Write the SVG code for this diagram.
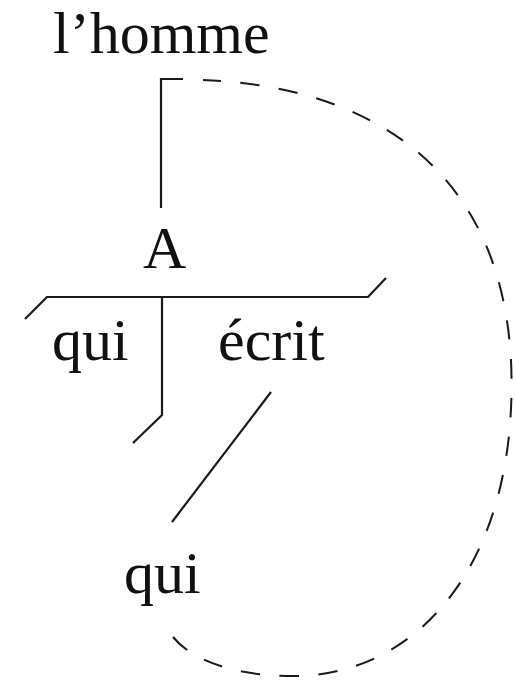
<svg xmlns="http://www.w3.org/2000/svg" width="515" height="682" viewBox="0 0 515 682">
<style>
text{font-family:"Liberation Serif","Times New Roman",serif;font-size:60px;fill:#111}
.ln{stroke:#1a1a1a;stroke-width:2.2;fill:none}
.dash{stroke:#1a1a1a;stroke-width:2;fill:none;stroke-dasharray:19.4 19.4}
</style>
<rect width="515" height="682" fill="#fff"/>
<g id="n-homme"><text x="53" y="53">l’homme</text></g>
<g id="n-A"><text x="143" y="268">A</text></g>
<g id="n-qui1"><text x="52" y="360">qui</text></g>
<g id="n-ecrit"><text x="218" y="360">écrit</text></g>
<g id="n-qui2"><text x="124" y="593">qui</text></g>
<g id="connectors">
<path class="ln" d="M161,208 V79 H183"/>
<path class="ln" d="M25,319 L47,297 H368 L386,278"/>
<path class="ln" d="M162,297 V415 L133,443"/>
<path class="ln" d="M271,392 L172,522"/>
<path class="dash" d="M173,637 C190,658 230,676 293,676 C420,676 520,560 511,360 C500,160 360,86 203,80"/>
</g>
</svg>
